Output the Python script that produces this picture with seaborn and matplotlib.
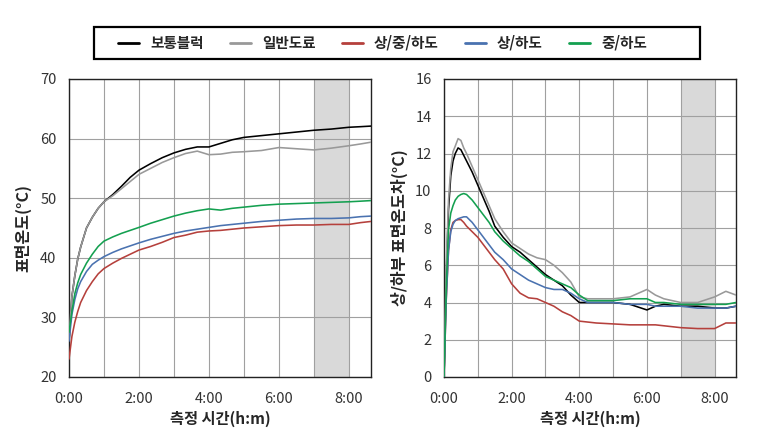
import matplotlib
matplotlib.use("Agg")
import matplotlib.pyplot as plt
import seaborn as sns
import pandas as pd
from matplotlib.lines import Line2D
from matplotlib.patches import Rectangle

sns.set_theme(style="white")
plt.rcParams['font.family'] = ['Noto Sans CJK KR', 'DejaVu Sans']

series_names = ["보통블럭", "일반도료", "상/중/하도", "상/하도", "중/하도"]
colors = ["#000000", "#999999", "#b5403c", "#4a72b0", "#14a050"]

# Left: surface temperature (°C), time in minutes
t_left = [0, 5, 10, 15, 20, 30, 40, 50, 60, 75, 90, 105, 120, 140, 160, 180, 200, 220,
          240, 260, 280, 300, 330, 360, 390, 420, 450, 480, 500, 518]
left_black = [26.0, 33.5, 37, 39.8, 41.8, 45, 46.8, 48.3, 49.4, 50.6, 52, 53.5, 54.7, 55.8, 56.8, 57.6,
              58.2, 58.6, 58.6, 59.2, 59.8, 60.2, 60.5, 60.8, 61.1, 61.4, 61.6, 61.9, 62.0, 62.1]
left_gray = [26.5, 33.5, 37, 39.8, 41.8, 45, 46.8, 48.3, 49.4, 50.4, 51.6, 52.8, 54.0, 55.0, 56.0, 56.8,
             57.5, 57.9, 57.3, 57.4, 57.7, 57.8, 58.0, 58.5, 58.3, 58.1, 58.4, 58.8, 59.1, 59.4]
left_red = [23, 26.8, 29.2, 31, 32.5, 34.5, 36, 37.3, 38.2, 39.1, 39.9, 40.6, 41.3, 41.9, 42.6, 43.4,
            43.8, 44.3, 44.5, 44.6, 44.8, 45.0, 45.2, 45.4, 45.5, 45.5, 45.6, 45.6, 45.9, 46.1]
left_blue = [26, 30.5, 33, 34.8, 36, 37.7, 38.9, 39.6, 40.2, 40.9, 41.5, 42.0, 42.5, 43.1, 43.6, 44.1,
             44.5, 44.8, 45.1, 45.4, 45.6, 45.8, 46.1, 46.3, 46.5, 46.6, 46.6, 46.7, 46.9, 47.0]
left_green = [27.5, 31, 34, 35.8, 37.2, 39.1, 40.6, 41.9, 42.8, 43.5, 44.1, 44.6, 45.1, 45.8, 46.4, 47.0,
              47.5, 47.9, 48.2, 48.0, 48.3, 48.5, 48.8, 49.0, 49.1, 49.2, 49.3, 49.4, 49.5, 49.6]

# Right: upper/lower surface temperature difference (°C)
t_right = [0, 4, 8, 12, 16, 20, 25, 30, 35, 40, 50, 60, 70, 80, 90, 105, 120, 135, 150, 165, 180,
           195, 210, 225, 240, 255, 270, 300, 330, 360, 375, 390, 420, 450, 480, 500, 518]
right_black = [0, 5.5, 9, 10.8, 11.6, 12.0, 12.3, 12.2, 11.9, 11.6, 11.0, 10.3, 9.6, 8.9, 8.1, 7.5,
               7.0, 6.7, 6.3, 5.9, 5.5, 5.2, 4.9, 4.4, 4.0, 4.0, 4.0, 4.0, 3.9, 3.6, 3.8, 3.9, 3.8,
               3.8, 3.7, 3.7, 3.8]
right_gray = [0, 6, 9.5, 11.2, 12.1, 12.4, 12.8, 12.7, 12.3, 12.0, 11.3, 10.6, 9.9, 9.2, 8.5, 7.8, 7.2,
              6.9, 6.6, 6.4, 6.3, 6.0, 5.6, 5.1, 4.3, 4.2, 4.2, 4.2, 4.3, 4.7, 4.4, 4.2, 4.0, 4.0,
              4.3, 4.6, 4.4]
right_red = [0, 4.2, 6.8, 7.9, 8.3, 8.4, 8.45, 8.45, 8.3, 8.1, 7.8, 7.5, 7.1, 6.7, 6.3, 5.8, 5.0, 4.5,
             4.25, 4.2, 4.0, 3.8, 3.5, 3.3, 3.0, 2.95, 2.9, 2.85, 2.8, 2.8, 2.8, 2.75, 2.65, 2.6,
             2.6, 2.9, 2.9]
right_blue = [0, 4.2, 6.8, 7.8, 8.2, 8.4, 8.5, 8.55, 8.6, 8.6, 8.3, 7.9, 7.5, 7.1, 6.7, 6.3, 5.8, 5.5,
              5.2, 5.0, 4.8, 4.7, 4.7, 4.5, 4.2, 4.0, 4.0, 4.0, 3.9, 3.9, 3.8, 3.8, 3.8, 3.7, 3.7,
              3.7, 3.8]
right_green = [0, 4.8, 7.9, 8.8, 9.2, 9.5, 9.7, 9.8, 9.85, 9.8, 9.5, 9.1, 8.7, 8.3, 7.8, 7.3, 6.9, 6.5,
               6.2, 5.8, 5.4, 5.2, 5.0, 4.8, 4.4, 4.1, 4.1, 4.1, 4.2, 4.2, 4.0, 4.0, 3.9, 3.9, 3.9,
               3.9, 4.0]

x_ticks = [0, 60, 120, 180, 240, 300, 360, 420, 480]
x_labels = ["0:00", "", "2:00", "", "4:00", "", "6:00", "", "8:00"]
shade_range = (420, 480)


def long_df(t, series):
    rows = []
    for name, vals in zip(series_names, series):
        for ti, v in zip(t, vals):
            rows.append({"t": ti, "v": v, "series": name})
    return pd.DataFrame(rows)


df_left = long_df(t_left, [left_black, left_gray, left_red, left_blue, left_green])
df_right = long_df(t_right, [right_black, right_gray, right_red, right_blue, right_green])
palette = dict(zip(series_names, colors))

fig = plt.figure(figsize=(7.58, 4.41), dpi=100)
axL = fig.add_axes([69 / 758, 1 - 377 / 441, (371 - 69) / 758, (377 - 79) / 441])
axR = fig.add_axes([444 / 758, 1 - 377 / 441, (736 - 444) / 758, (377 - 79) / 441])


def style(ax, df, ylim, yticks, ylabel, ylabelpad):
    ax.axvspan(*shade_range, color="#d9d9d9", zorder=0, lw=0)
    sns.lineplot(data=df, x="t", y="v", hue="series", palette=palette, ax=ax,
                 linewidth=1.15, legend=False, zorder=3)
    ax.set_xlim(0, 518)
    ax.set_ylim(*ylim)
    ax.set_xticks(x_ticks)
    ax.set_xticklabels(x_labels)
    ax.set_yticks(yticks)
    ax.grid(True, color="#a0a0a0", linewidth=0.8, zorder=1)
    ax.set_axisbelow(True)
    for s in ax.spines.values():
        s.set_color("#222222")
        s.set_linewidth(1.0)
    ax.tick_params(axis="both", which="major", direction="out", length=3, width=0.8,
                   labelsize=10.5, color="#222222", labelcolor="#333333")
    ax.tick_params(axis="x", pad=8)
    ax.tick_params(axis="y", pad=6)
    ax.set_xlabel("측정 시간(h:m)", fontsize=11, fontweight="bold", labelpad=3)
    ax.set_ylabel(ylabel, fontsize=11.5, fontweight="bold", labelpad=ylabelpad)


style(axL, df_left, (20, 70), [20, 30, 40, 50, 60, 70], "표면온도(°C)", 6)
style(axR, df_right, (0, 16), [0, 2, 4, 6, 8, 10, 12, 14, 16], "상/하부 표면온도차(°C)", 5)

# legend box frame
fig.patches.append(Rectangle((94 / 758, 1 - 59 / 441), 606 / 758, 32 / 441,
                             transform=fig.transFigure, fill=False,
                             edgecolor="#000000", linewidth=1.6, zorder=5))

handles = [Line2D([0], [0], color=c, lw=2) for c in colors]
leg = fig.legend(handles, series_names, loc="center left", ncol=5,
                 bbox_to_anchor=(118 / 758, 1 - 43 / 441), frameon=False,
                 handlelength=1.45, columnspacing=1.8, handletextpad=0.75,
                 borderpad=0, borderaxespad=0,
                 prop={"size": 10.5, "weight": "bold", "family": ['Noto Sans CJK KR', 'DejaVu Sans']})

fig.savefig("out.png", dpi=100, facecolor="white")
